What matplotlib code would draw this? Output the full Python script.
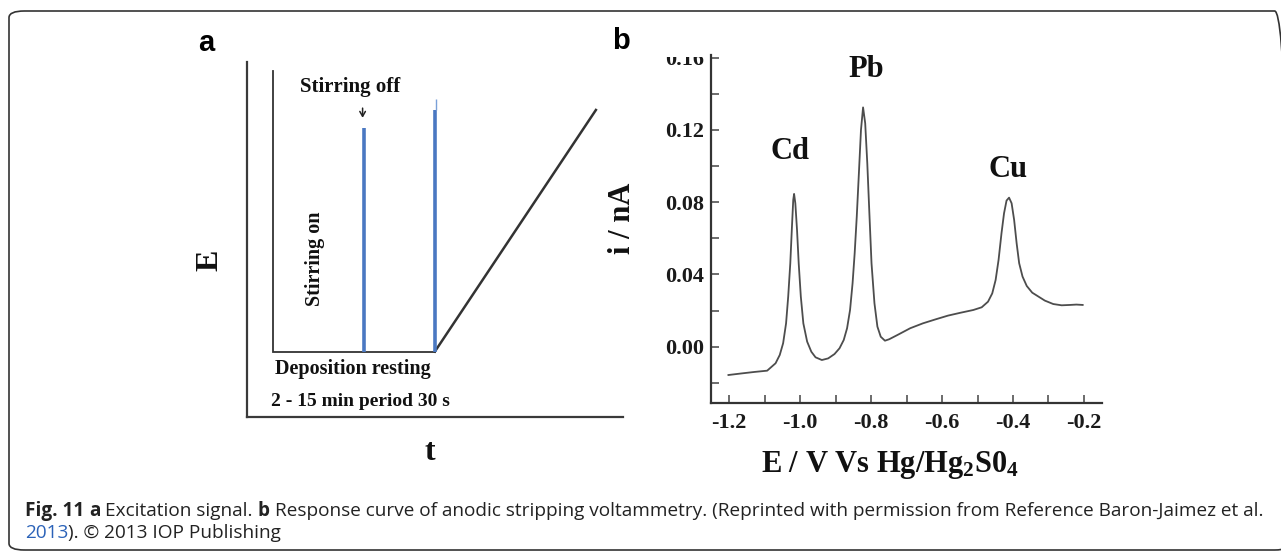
import matplotlib
matplotlib.use("Agg")
import matplotlib.pyplot as plt
import matplotlib.transforms as mtransforms
from matplotlib.patches import FancyBboxPatch
from matplotlib.ticker import MultipleLocator, FixedLocator

# ---------------- data ----------------
# panel a : excitation signal (schematic units)
signal_t = [0.7, 0.7, 5.0, 9.28]
signal_E = [9.75, 1.85, 1.85, 8.65]
marker_t = [3.12, 5.0]          # stirring off / end of resting period
marker_E_top = [8.13, 8.65]
marker_E_base = 1.85

# panel b : anodic stripping voltammogram
potential_V = [-1.2024, -1.1644, -1.1288, -1.0932, -1.0695, -1.0577, -1.0482, -1.0399,
               -1.0339, -1.0280, -1.0233, -1.0197, -1.0173, -1.0138, -1.0090, -1.0043,
               -0.9983, -0.9912, -0.9805, -0.9687, -0.9568, -0.9390, -0.9212, -0.9034,
               -0.8892, -0.8773, -0.8679, -0.8595, -0.8524, -0.8465, -0.8406, -0.8346,
               -0.8287, -0.8228, -0.8168, -0.8109, -0.8050, -0.7990, -0.7907, -0.7824,
               -0.7730, -0.7611, -0.7492, -0.7255, -0.6899, -0.6543, -0.6187, -0.5832,
               -0.5476, -0.5120, -0.4883, -0.4705, -0.4586, -0.4491, -0.4408, -0.4325,
               -0.4254, -0.4183, -0.4112, -0.4040, -0.3969, -0.3898, -0.3827, -0.3732,
               -0.3613, -0.3459, -0.3281, -0.3103, -0.2866, -0.2629, -0.2391, -0.2214,
               -0.2036]
current_nA = [-0.0157, -0.0148, -0.0140, -0.0133, -0.0092, -0.0046, 0.0019, 0.0129,
              0.0277, 0.0462, 0.0665, 0.0812, 0.0846, 0.0794, 0.0646, 0.0462,
              0.0277, 0.0129, 0.0028, -0.0028, -0.0059, -0.0074, -0.0065, -0.0041,
              -0.0009, 0.0037, 0.0102, 0.0203, 0.0351, 0.0517, 0.0720, 0.0960,
              0.1200, 0.1325, 0.1237, 0.1015, 0.0738, 0.0462, 0.0240, 0.0111,
              0.0055, 0.0033, 0.0041, 0.0065, 0.0102, 0.0129, 0.0151, 0.0172,
              0.0188, 0.0203, 0.0218, 0.0249, 0.0295, 0.0369, 0.0480, 0.0628,
              0.0738, 0.0809, 0.0825, 0.0794, 0.0702, 0.0572, 0.0462, 0.0388,
              0.0336, 0.0299, 0.0277, 0.0255, 0.0236, 0.0229, 0.0231, 0.0233,
              0.0231]
peak_names = ["Cd", "Pb", "Cu"]
peak_potential = [-1.030, -0.814, -0.415]
peak_label_current = [0.108, 0.1536, 0.098]
x_ticks = [-1.2, -1.0, -0.8, -0.6, -0.4, -0.2]
x_tick_labels = ["-1.2", "-1.0", "-0.8", "-0.6", "-0.4", "-0.2"]
y_ticks = [0.00, 0.04, 0.08, 0.12, 0.16]
y_tick_labels = ["0.00", "0.04", "0.08", "0.12", "0.16"]

# ---------------- figure ----------------
W, H = 1281, 552
fig = plt.figure(figsize=(W / 100, H / 100), dpi=100)
fig.patch.set_facecolor("white")

SERIF = "Liberation Serif"
SANS = "Liberation Sans"

def fx(x):
    return x / W

def fy(y):
    return 1 - y / H

# frame around the whole figure
frame = FancyBboxPatch((fx(9), fy(550)), fx(1290) - fx(9), fy(11) - fy(550),
                       boxstyle="round,pad=0,rounding_size=0.012",
                       transform=fig.transFigure, fill=False,
                       edgecolor="#333333", linewidth=1.2)
fig.patches.append(frame)

# ---------------- panel a ----------------
ax_a = fig.add_axes([fx(246.7), fy(417.3), fx(623) - fx(246.7), fy(62) - fy(417.3)])
ax_a.set_xlim(0, 10)
ax_a.set_ylim(0, 10)
for s in ["top", "right"]:
    ax_a.spines[s].set_visible(False)
for s in ["left", "bottom"]:
    ax_a.spines[s].set_linewidth(1.6)
    ax_a.spines[s].set_color("#3a3a3a")
ax_a.set_xticks([])
ax_a.set_yticks([])
ax_a.patch.set_alpha(0)

ax_a.plot(signal_t[:3], signal_E[:3], color="#333333", lw=1.3, solid_joinstyle="miter")
ax_a.plot(signal_t[2:], signal_E[2:], color="#333333", lw=1.8)
for t, et in zip(marker_t, marker_E_top):
    ax_a.plot([t, t], [marker_E_base, et], color="#4a78c2", lw=2.6, solid_capstyle="butt")
ax_a.plot([marker_t[1] + 0.025, marker_t[1] + 0.025], [marker_E_top[1], 8.96],
          color="#7aa0d8", lw=1.0, solid_capstyle="butt")
ax_a.annotate("", xy=(3.08, 8.35), xytext=(3.08, 8.78),
              arrowprops=dict(arrowstyle="->,head_length=0.35,head_width=0.2",
                              color="#222222", lw=1.1))

tk = dict(family=SERIF, fontweight="bold", color="#111111")
ax_a.text(2.745, 9.30, "Stirring off", fontsize=15, ha="center", va="center", **tk)
ax_a.text(1.82, 4.46, "Stirring on", fontsize=14.5, rotation=90, ha="center", va="center", **tk)
ax_a.text(2.81, 1.35, "Deposition resting", fontsize=14.5, ha="center", va="center", **tk)
ax_a.text(3.01, 0.44, "2 - 15 min period 30 s", fontsize=14, ha="center", va="center", **tk)
ax_a.text(-0.0975, 0.4427, "E", fontsize=23, rotation=90, ha="center", va="center",
          transform=ax_a.transAxes, **tk)
ax_a.text(0.487, -0.098, "t", fontsize=23, ha="center", va="center",
          transform=ax_a.transAxes, **tk)

fig.text(fx(206), fy(43), "a", family=SANS, fontweight="bold", fontsize=21,
         ha="center", va="center")
fig.text(fx(621), fy(41), "b", family=SANS, fontweight="bold", fontsize=21,
         ha="center", va="center")

# ---------------- panel b ----------------
ax_b = fig.add_axes([fx(710.7), fy(403), fx(1101.7) - fx(710.7), fy(55) - fy(403)])
ax_b.set_xlim(-1.2524, -0.150)
ax_b.set_ylim(-0.0312, 0.1615)
for s in ["top", "right"]:
    ax_b.spines[s].set_visible(False)
for s in ["left", "bottom"]:
    ax_b.spines[s].set_linewidth(1.6)
    ax_b.spines[s].set_color("#333333")
ax_b.patch.set_alpha(0)

ax_b.plot(potential_V, current_nA, color="#4d4d4d", lw=1.3)

ax_b.xaxis.set_major_locator(FixedLocator(x_ticks))
ax_b.xaxis.set_minor_locator(MultipleLocator(0.1))
ax_b.set_xticklabels(x_tick_labels)
ax_b.yaxis.set_major_locator(FixedLocator(y_ticks))
ax_b.yaxis.set_minor_locator(MultipleLocator(0.02))
ax_b.set_yticklabels(y_tick_labels)
ax_b.tick_params(which="both", direction="in", length=6, width=1.1, color="#444444")
ax_b.tick_params(axis="x", pad=7)
ax_b.tick_params(axis="y", pad=5)
for lab in ax_b.get_xticklabels() + ax_b.get_yticklabels():
    lab.set_fontfamily(SERIF)
    lab.set_fontweight("bold")
    lab.set_fontsize(16)
    lab.set_color("#1a1a1a")

for name, xv, yv in zip(peak_names, peak_potential, peak_label_current):
    ax_b.text(xv, yv, name, fontsize=22, ha="center", va="center", **tk)

plt.rcParams["mathtext.fontset"] = "custom"
plt.rcParams["mathtext.rm"] = "Liberation Serif:bold"
plt.rcParams["mathtext.it"] = "Liberation Serif:bold"
plt.rcParams["mathtext.bf"] = "Liberation Serif:bold"
fig.text(fx(890), fy(465), r"E / V Vs Hg/Hg$_\mathrm{2}$S0$_\mathrm{4}$", fontsize=22,
         ha="center", va="center", **tk)
fig.text(fx(623), fy(218), "i / nA", fontsize=22, rotation=90, ha="center", va="center", **tk)

# ---------------- caption ----------------
line1 = [("Fig. 11", "bold", "#222222"), ("a", "bold", "#222222"),
         ("Excitation signal.", "normal", "#222222"), ("b", "bold", "#222222"),
         ("Response curve of anodic stripping voltammetry. (Reprinted with permission "
          "from Reference Baron-Jaimez et al.", "normal", "#222222")]
line2 = [("2013", "normal", "#2b62b8"), ("). \u00a9 2013 IOP Publishing", "normal", "#222222")]

renderer = fig.canvas.get_renderer()
CAP = "Open Sans"

def width_of(s, weight, size):
    t = fig.text(0, 0, s, family=CAP, fontweight=weight, fontsize=size)
    w = t.get_window_extent(renderer).width
    t.remove()
    return w

def line_width(pieces, size, joins):
    sp = width_of("a a", "normal", size) - width_of("aa", "normal", size)
    total = 0
    for i, (s, wgt, c) in enumerate(pieces):
        total += width_of(s, wgt, size)
        if i < len(pieces) - 1 and joins[i]:
            total += sp
    return total

joins1 = [True, True, True, True]
joins2 = [False]
base = 12.0
w1 = line_width(line1, base, joins1)
size = base * (1257 - 25) / w1

def place(pieces, joins, x0, ybase):
    sp = width_of("a a", "normal", size) - width_of("aa", "normal", size)
    x = x0
    for i, (s, wgt, c) in enumerate(pieces):
        t = fig.text(fx(x), fy(ybase), s, family=CAP, fontweight=wgt, fontsize=size,
                     color=c, va="baseline", ha="left")
        x += t.get_window_extent(renderer).width
        if i < len(pieces) - 1 and joins[i]:
            x += sp

place(line1, joins1, 25, 516)
place(line2, joins2, 25, 538)

# clip the partially visible top tick label as in the original crop
fig.canvas.draw()
for tick in ax_b.yaxis.get_major_ticks():
    if tick.label1.get_text() == "0.16":
        tick.label1.set_clip_on(True)
        tick.label1.set_clip_box(mtransforms.Bbox.from_extents(0, 0, W, H - 57))

fig.savefig("out.png", dpi=100)
